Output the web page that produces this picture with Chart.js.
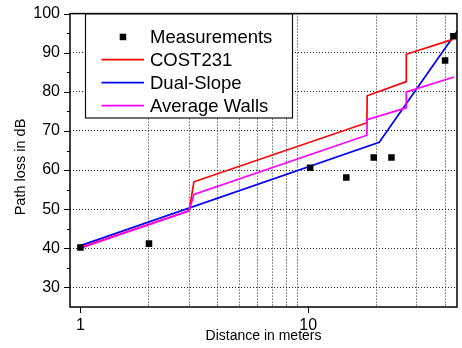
<!DOCTYPE html>
<html lang="en">
<head>
  <meta charset="UTF-8" />
  <title>Path loss vs distance</title>
  <script src="https://cdn.jsdelivr.net/npm/chart.js"></script>
  <style>
    html, body { margin: 0; padding: 0; background: #fff; }
    #wrap { width: 462px; height: 348px; }
  </style>
</head>
<body>
  <div id="wrap"><canvas id="pathLossChart" width="462" height="348"></canvas></div>

  <script>
    // measured points
    const measDist = [1, 2, 10.2, 14.7, 19.4, 23.2, 39.9, 43.4];
    const measLoss = [40.2, 41.2, 60.6, 58.1, 63.2, 63.2, 88.0, 94.2];

    // model curves
    const costDist = [1, 3, 3.15, 18.1, 18.15, 26.9, 26.95, 43.1];
    const costLoss = [40.2, 49.6, 57.0, 72.1, 79.0, 82.6, 89.6, 93.4];
    const dualDist = [1, 20.5, 46];
    const dualLoss = [40.7, 67.1, 96.3];
    const wallsDist = [1, 3, 3.15, 18.1, 18.15, 26.9, 26.95, 43.7];
    const wallsLoss = [40.0, 49.6, 53.8, 68.9, 72.9, 75.9, 80.0, 83.8];

    const xTicks = [1, 2, 3, 4, 5, 6, 7, 8, 9, 10, 20, 30, 40];
    const xLabels = [1, 10];
    const yTicks = [30, 40, 50, 60, 70, 80, 90, 100];

    const FONT = "'Liberation Sans', Arial, sans-serif";

    function pts(xs, ys) {
      return xs.map((x, i) => ({ x: x, y: ys[i] }));
    }

    // legend entries in the order they appear in the box
    const legendOrder = ['Measurements', 'COST231', 'Dual-Slope', 'Average Walls'];

    const decor = {
      id: 'decor',
      afterDraw(chart) {
        const { ctx, chartArea: a, scales } = chart;
        const x = scales.x, y = scales.y;
        ctx.save();

        // tick marks: y majors + minors, x majors only
        ctx.strokeStyle = '#000';
        ctx.lineWidth = 1;
        ctx.beginPath();
        for (let v = 30; v <= 100; v += 5) {
          const py = Math.round(y.getPixelForValue(v)) + 0.5;
          const len = v % 10 ? 3 : 6;
          ctx.moveTo(a.left - len, py);
          ctx.lineTo(a.left, py);
        }
        xLabels.forEach(v => {
          const px = Math.round(x.getPixelForValue(v)) + 0.5;
          ctx.moveTo(px, a.bottom);
          ctx.lineTo(px, a.bottom + 6);
        });
        ctx.stroke();

        // frame
        ctx.lineWidth = 1.5;
        ctx.strokeRect(a.left, a.top, a.right - a.left, a.bottom - a.top);

        // legend box
        const lx = 85.5, ly = 14, lw = 207, lh = 104;
        ctx.fillStyle = '#fff';
        ctx.fillRect(lx, ly, lw, lh);
        ctx.lineWidth = 1.2;
        ctx.strokeStyle = '#111';
        ctx.strokeRect(lx, ly, lw, lh);

        ctx.font = '18.5px ' + FONT;
        ctx.textBaseline = 'middle';
        ctx.textAlign = 'left';
        legendOrder.forEach((name, i) => {
          const ds = chart.data.datasets.find(d => d.label === name);
          const cy = 36.7 + i * 23;
          if (ds.showLine === false) {
            ctx.fillStyle = ds.pointBackgroundColor;
            ctx.fillRect(119.7, cy - 3, 6.5, 6.5);
          } else {
            ctx.strokeStyle = ds.borderColor;
            ctx.lineWidth = ds.borderWidth;
            ctx.beginPath();
            ctx.moveTo(101.5, cy);
            ctx.lineTo(144, cy);
            ctx.stroke();
          }
          ctx.fillStyle = '#000';
          ctx.fillText(name, 150, cy + 1);
        });

        // y axis title
        ctx.translate(21, 167);
        ctx.rotate(-Math.PI / 2);
        ctx.font = '14.5px ' + FONT;
        ctx.textAlign = 'center';
        ctx.fillStyle = '#000';
        ctx.fillText('Path loss in dB', 0, 0);

        ctx.restore();
      }
    };

    new Chart('pathLossChart', {
      type: 'scatter',
      data: {
        datasets: [
          {
            label: 'Measurements',
            data: pts(measDist, measLoss),
            showLine: false,
            pointStyle: 'rect',
            pointRadius: 4.6,
            pointBorderWidth: 0,
            pointBackgroundColor: '#000',
            order: 0
          },
          {
            label: 'Average Walls',
            data: pts(wallsDist, wallsLoss),
            showLine: true,
            borderColor: '#ff00ff',
            borderWidth: 1.7,
            pointRadius: 0,
            order: 1
          },
          {
            label: 'COST231',
            data: pts(costDist, costLoss),
            showLine: true,
            borderColor: '#ff0000',
            borderWidth: 1.7,
            pointRadius: 0,
            order: 2
          },
          {
            label: 'Dual-Slope',
            data: pts(dualDist, dualLoss),
            showLine: true,
            borderColor: '#0000ff',
            borderWidth: 1.7,
            pointRadius: 0,
            order: 3
          }
        ]
      },
      options: {
        responsive: false,
        animation: false,
        layout: { padding: { top: 12, right: 5, left: 0, bottom: 0 } },
        plugins: {
          legend: { display: false },
          tooltip: { enabled: false }
        },
        scales: {
          x: {
            type: 'logarithmic',
            min: 0.9,
            max: 45,
            afterBuildTicks: s => { s.ticks = xTicks.map(v => ({ value: v })); },
            afterFit: s => { s.height = 41; },
            ticks: {
              autoSkip: false,
              maxRotation: 0,
              padding: 3,
              color: '#000',
              font: { family: FONT, size: 16 },
              callback: v => (xLabels.includes(v) ? String(v) : '')
            },
            grid: {
              color: c => (xLabels.includes(c.tick.value) ? 'rgba(0,0,0,0)' : '#222'),
              lineWidth: 1,
              tickLength: 6,
              tickColor: 'rgba(0,0,0,0)'
            },
            border: { display: false, dash: [1, 2] },
            title: {
              display: true,
              text: 'Distance in meters',
              color: '#000',
              font: { family: FONT, size: 14 },
              padding: { top: 0, bottom: 3 }
            }
          },
          y: {
            min: 25,
            max: 100,
            afterBuildTicks: s => { s.ticks = yTicks.map(v => ({ value: v })); },
            afterFit: s => { s.width = 70; },
            ticks: {
              padding: 4,
              color: '#000',
              font: { family: FONT, size: 16 }
            },
            grid: {
              color: '#222',
              lineWidth: 1,
              tickLength: 6,
              tickColor: 'rgba(0,0,0,0)'
            },
            border: { display: false, dash: [1, 2] }
          }
        }
      },
      plugins: [decor]
    });
  </script>
</body>
</html>
